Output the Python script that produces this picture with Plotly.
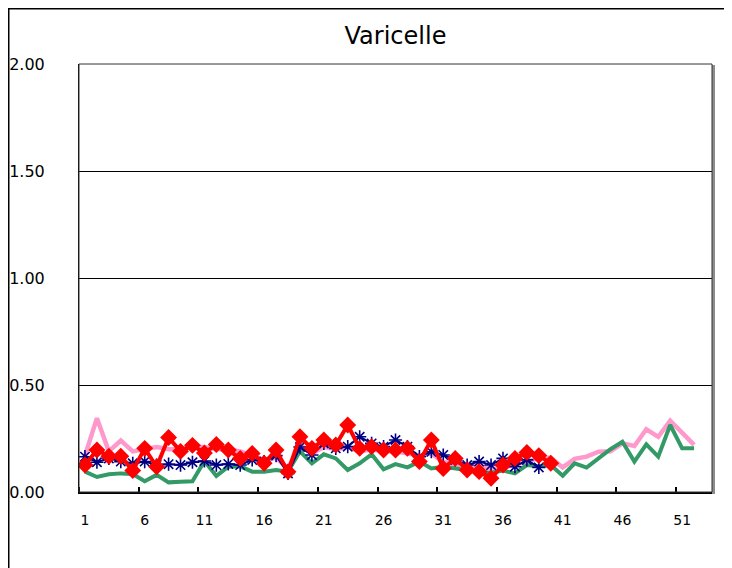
import plotly.graph_objects as go

weeks = list(range(1, 53))

pink_vals = [0.17, 0.345, 0.19, 0.24, 0.19, 0.20, 0.21, 0.20, 0.20, 0.21,
             0.21, 0.20, 0.20, 0.19, 0.17, 0.15, 0.16, 0.11, 0.22, 0.18,
             0.21, 0.20, 0.21, 0.19, 0.20, 0.19, 0.19, 0.18, 0.17, 0.18,
             0.14, 0.13, 0.12, 0.12, 0.11, 0.11, 0.13, 0.14, 0.16, 0.16,
             0.115, 0.155, 0.165, 0.188, 0.19, 0.227, 0.215, 0.293, 0.258, 0.333,
             0.274, 0.22]

green_vals = [0.095, 0.07, 0.083, 0.087, 0.084, 0.05, 0.08, 0.045, 0.048, 0.05,
              0.145, 0.075, 0.118, 0.12, 0.095, 0.095, 0.103, 0.095, 0.19, 0.134,
              0.176, 0.157, 0.103, 0.134, 0.176, 0.106, 0.13, 0.115, 0.142, 0.11,
              0.118, 0.11, 0.10, 0.095, 0.09, 0.10, 0.087, 0.126, 0.12, 0.126,
              0.076, 0.134, 0.114, 0.157, 0.20, 0.235, 0.142, 0.223, 0.165, 0.313,
              0.204, 0.204]

navy_vals = [0.165, 0.139, 0.157, 0.142, 0.134, 0.142, 0.126, 0.13, 0.126, 0.139,
             0.145, 0.126, 0.131, 0.126, 0.15, 0.142, 0.17, 0.087, 0.21, 0.173,
             0.227, 0.204, 0.212, 0.258, 0.227, 0.212, 0.243, 0.212, 0.165, 0.188,
             0.173, 0.15, 0.126, 0.142, 0.126, 0.157, 0.118, 0.15, 0.115]

red_vals = [0.126, 0.196, 0.167, 0.167, 0.10, 0.204, 0.118, 0.255, 0.19, 0.218,
            0.182, 0.222, 0.196, 0.157, 0.18, 0.134, 0.196, 0.095, 0.258, 0.204,
            0.243, 0.22, 0.313, 0.204, 0.212, 0.196, 0.196, 0.204, 0.142, 0.243,
            0.11, 0.157, 0.103, 0.095, 0.064, 0.126, 0.157, 0.185, 0.17, 0.134]

x_tick_vals = [1, 6, 11, 16, 21, 26, 31, 36, 41, 46, 51]
x_tick_text = [str(v) for v in x_tick_vals]
y_tick_vals = [0, 0.5, 1.0, 1.5, 2.0]
y_tick_text = ["0.00", "0.50", "1.00", "1.50", "2.00"]
title_text = "Varicelle"

FONT = "DejaVu Sans"

fig = go.Figure()
fig.add_trace(go.Scatter(x=weeks[:len(pink_vals)], y=pink_vals, mode="lines",
                         line=dict(color="#FF99CC", width=4.5), showlegend=False))
fig.add_trace(go.Scatter(x=weeks[:len(green_vals)], y=green_vals, mode="lines",
                         line=dict(color="#339966", width=4), showlegend=False))
fig.add_trace(go.Scatter(x=weeks[:len(navy_vals)], y=navy_vals, mode="lines+markers",
                         line=dict(color="#000080", width=2),
                         marker=dict(symbol="asterisk-open", size=11,
                                     line=dict(color="#000080", width=1.6)),
                         showlegend=False))
fig.add_trace(go.Scatter(x=weeks[:len(red_vals)], y=red_vals, mode="lines+markers",
                         line=dict(color="#FF0000", width=4),
                         marker=dict(symbol="diamond", size=13, color="#FF0000"),
                         showlegend=False))

# The page body adds an 8px offset; figure coordinates below are page - 8.
OFF = 8
W, H = 732 - OFF, 568 - OFF
L, R, T, B = 79 - OFF, 712 - OFF, 64 - OFF, 492 - OFF
pw, ph = R - L, B - T

def px(x):
    return (x - L) / pw

def py(y):
    return (B - y) / ph

shapes = [
    # outer chart border
    dict(type="rect", xref="paper", yref="paper",
         x0=px(0.75), x1=px(W + 10), y0=py(H + 10), y1=py(0.75),
         line=dict(color="#000000", width=1.5), layer="below"),
    # plot area right shadow
    dict(type="line", xref="paper", yref="paper",
         x0=px(R + 1.5), x1=px(R + 1.5), y0=py(B + 2), y1=py(T + 1),
         line=dict(color="#8c8c8c", width=3)),
    # plot area border
    dict(type="rect", xref="paper", yref="paper",
         x0=0, x1=1, y0=0, y1=1,
         line=dict(color="#333333", width=1)),
]

fig.update_layout(
    width=W, height=H,
    margin=dict(l=L, r=W - R, t=T, b=H - B, pad=0, autoexpand=False),
    paper_bgcolor="white", plot_bgcolor="white",
    font=dict(family=FONT, size=15, color="#000000"),
    title=dict(text=title_text, x=(L + R) / 2 / W, xanchor="center",
               y=1 - (36 - OFF) / H, yanchor="middle", yref="container",
               font=dict(family=FONT, size=24, color="#000000")),
    shapes=shapes,
    xaxis=dict(range=[0.5, 53.5], tickmode="array", tickvals=x_tick_vals,
               ticktext=x_tick_text, ticks="", showgrid=False, zeroline=False,
               showline=True, linecolor="#000000", linewidth=2,
               automargin=False, ticklabelstandoff=14,
               tickfont=dict(family=FONT, size=14),
               minor=dict(tick0=0.5, dtick=5, ticks="inside", ticklen=5,
                          tickcolor="#000000", tickwidth=1.5, showgrid=False)),
    yaxis=dict(range=[0, 2], tickmode="array", tickvals=y_tick_vals,
               ticktext=y_tick_text, ticks="", showgrid=True,
               gridcolor="#000000", gridwidth=1, zeroline=False,
               showline=True, linecolor="#000000", linewidth=1,
               automargin=False,
               ticklabelstandoff=30,
               tickfont=dict(family=FONT, size=16)),
)

fig.write_html("out.html")
